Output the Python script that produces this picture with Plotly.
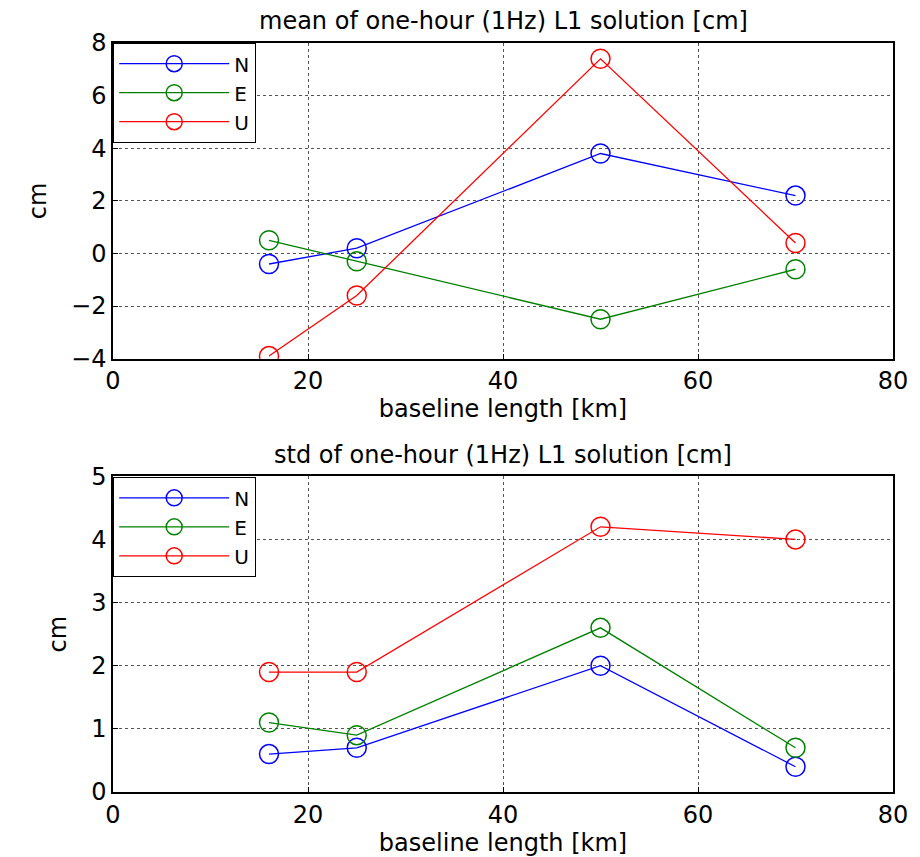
import plotly.graph_objects as go
from plotly.subplots import make_subplots

baseline_km = [16, 25, 50, 70]
mean_N = [-0.4, 0.2, 3.8, 2.2]
mean_E = [0.5, -0.3, -2.5, -0.6]
mean_U = [-3.9, -1.6, 7.4, 0.4]
std_N = [0.6, 0.7, 2.0, 0.4]
std_E = [1.1, 0.9, 2.6, 0.7]
std_U = [1.9, 1.9, 4.2, 4.0]
series_names = ["N", "E", "U"]
colors = ["#0000FF", "#008000", "#FF0000"]
titles = ["mean of one-hour (1Hz) L1 solution [cm]", "std of one-hour (1Hz) L1 solution [cm]"]

FONT = "DejaVu Sans, Liberation Sans, Arial, sans-serif"
FS = 24

fig = make_subplots(rows=2, cols=1, vertical_spacing=0.157)

for row, data in [(1, [mean_N, mean_E, mean_U]), (2, [std_N, std_E, std_U])]:
    for name, vals, c in zip(series_names, data, colors):
        fig.add_trace(go.Scatter(
            x=baseline_km, y=vals, mode="lines+markers", name=name,
            line=dict(color=c, width=1.3),
            marker=dict(symbol="circle-open", size=19, color=c, line=dict(width=1.5, color=c)),
            showlegend=True, legend="legend" if row == 1 else "legend2",
        ), row=row, col=1)

axis_common = dict(
    showline=True, linecolor="black", linewidth=1.5, mirror=True,
    ticks="inside", ticklen=5, tickcolor="black",
    showgrid=True, gridcolor="#555555", griddash="dot", gridwidth=1,
    zeroline=False, tickfont=dict(family=FONT, size=FS, color="black"),
)
fig.update_xaxes(range=[0, 80], tickvals=[0, 20, 40, 60, 80], **axis_common,
                 title=dict(text="baseline length [km]", font=dict(family=FONT, size=FS, color="black"), standoff=0))
fig.update_yaxes(**axis_common, title=dict(text="cm", font=dict(family=FONT, size=FS, color="black"), standoff=18))
fig.update_yaxes(range=[-4, 8], tickvals=[-4, -2, 0, 2, 4, 6, 8], row=1, col=1)
fig.update_yaxes(range=[0, 5], tickvals=[0, 1, 2, 3, 4, 5], row=2, col=1)

ann = []
ann.append(dict(text=titles[0], x=0.5, y=1.0, xref="paper", yref="paper", yshift=6,
                xanchor="center", yanchor="bottom", showarrow=False,
                font=dict(family=FONT, size=FS, color="black")))
ann.append(dict(text=titles[1], x=0.5, y=0.4204, xref="paper", yref="paper", yshift=6,
                xanchor="center", yanchor="bottom", showarrow=False,
                font=dict(family=FONT, size=FS, color="black")))

leg = dict(x=0.0, y=1.0, xanchor="left", yanchor="top", bgcolor="white",
           bordercolor="black", borderwidth=1.2, tracegroupgap=0,
           font=dict(family=FONT, size=20, color="black"), itemwidth=110)
leg2 = dict(leg)
leg2["y"] = 0.4204

fig.update_layout(
    width=920, height=857,
    margin=dict(l=113, r=23, t=43, b=60),
    paper_bgcolor="white", plot_bgcolor="white",
    annotations=ann,
    legend=leg, legend2=leg2,
)

fig.write_html("out.html")
